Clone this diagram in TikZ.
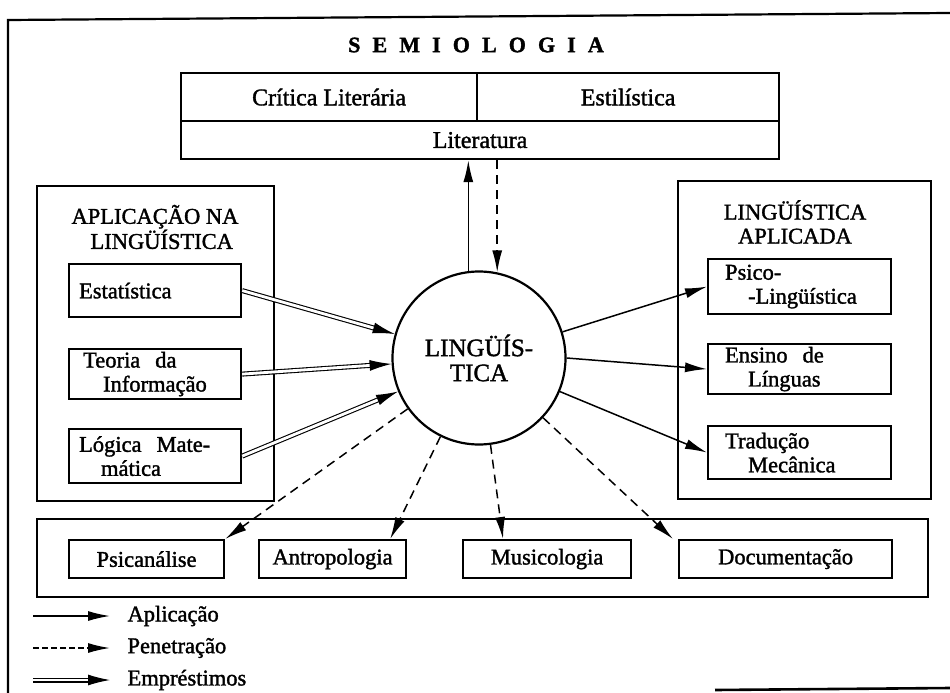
\documentclass[tikz,border=0pt]{standalone}
\usepackage{fontspec}
\setmainfont{Liberation Serif}[FakeBold=1.5]
\usetikzlibrary{arrows.meta,calc}
\begin{document}
\begin{tikzpicture}[x=1pt,y=-1pt,
  every node/.style={font=\fontsize{22.5}{24}\selectfont},
  frame/.style={line width=2.2pt},
  box/.style={draw,line width=2.2pt,rectangle,anchor=north west,inner sep=0pt},
  tbox/.style={draw,line width=2.2pt,rectangle,anchor=north west,align=left,inner ysep=0pt},
  tip/.style={-{Latex[length=22pt,width=10pt]}},
  apl/.style={line width=1.5pt,tip},
  pen/.style={line width=1.5pt,dash pattern=on 9pt off 6pt,tip},
  emp/.style={double,double distance=2.8pt,line width=1.1pt,-{Latex[length=22pt,width=11pt]}},
]
\useasboundingbox (0,0) rectangle (950,693);
% outer frame
\draw[frame] (8,693) -- (8,20) -- (950,13);
\draw[line width=2.6pt] (715,690) -- (950,688);

\node[font=\fontsize{22}{24}\selectfont\bfseries\addfontfeature{LetterSpace=55}] (sem) at (476,45) {SEMIOLOGIA};

% top box
\node[box,minimum width=296pt,minimum height=48pt,font=\fontsize{24}{26}\selectfont] (crit) at (180,72) {Crítica\ Literária};
\node[box,minimum width=302pt,minimum height=48pt,font=\fontsize{24}{26}\selectfont] (estil) at (476,72) {Estilística};
\node[box,minimum width=598pt,minimum height=38pt,font=\fontsize{24}{26}\selectfont] (lit) at (180,120) {Literatura};

% left group
\node[box,minimum width=237pt,minimum height=315pt] (lbox) at (36,185) {};
\node[align=center] (ltit) at (155,227) {APLICAÇÃO NA\\\hspace*{0.6em}LINGÜÍSTICA};
\node[tbox,inner xsep=10pt,text width=152pt,minimum height=53pt] (est) at (68,263) {Estatística};
\node[tbox,inner xsep=14pt,text width=144pt,minimum height=50pt] (teo) at (68,348) {Teoria\ \ da\\\hspace*{20pt}Informação};
\node[tbox,inner xsep=10pt,text width=152pt,minimum height=54pt] (log) at (68,428) {Lógica\ \ Mate-\\\hspace*{22pt}mática};

% right group
\node[box,minimum width=253pt,minimum height=318pt] (rbox) at (677,180) {};
\node[align=center] (rtit) at (795,222) {LINGÜÍSTICA\\APLICADA};
\node[tbox,inner xsep=17pt,text width=149pt,minimum height=55pt] (psy) at (707,258) {Psico-\\\hspace*{23pt}-Lingüística};
\node[tbox,inner xsep=17pt,text width=149pt,minimum height=50pt] (ens) at (707,343) {Ensino\ \ de\\\hspace*{23pt}Línguas};
\node[tbox,inner xsep=17pt,text width=149pt,minimum height=53pt] (tra) at (707,425) {Tradução\\\hspace*{23pt}Mecânica};

% circle
\node[draw,circle,line width=2.2pt,minimum size=173pt,inner sep=0pt,align=center,font=\fontsize{25}{25}\selectfont] (circ) at (479,358) {LINGÜÍS-\\TICA};

% bottom group
\node[box,minimum width=891pt,minimum height=78pt] (bbox) at (36,518) {};
\node[box,minimum width=155pt,minimum height=38pt] (psic) at (68,539) {Psicanálise};
\node[box,minimum width=147pt,minimum height=38pt] (antro) at (258,539) {Antropologia};
\node[box,minimum width=168pt,minimum height=38pt] (musi) at (462,539) {Musicologia};
\node[box,minimum width=213pt,minimum height=38pt] (doc) at (678,539) {Documentação};

% connectors
\draw[apl] (circ.97.5) -- (circ.97.5 |- lit.south);
\draw[pen] (circ.78 |- lit.south) -- (circ.78);

\draw[emp] (est.east) -- (circ);
\draw[emp] (teo.east) -- (circ);
\draw[emp] (log.east) -- (circ);

\draw[apl] (circ) -- (psy.west);
\draw[apl] (circ.0) -- (ens.west);
\draw[apl] (circ) -- (tra.west);

\draw[pen] (circ) -- (psic.north east);
\draw[pen] (circ) -- ($(antro.north east)+(-17,0)$);
\draw[pen] (circ) -- ($(musi.north west)+(41,0)$);
\draw[pen] (circ) -- ($(doc.north west)+(-5,0)$);

% legend
\coordinate (a1) at (33,616); \coordinate (a2) at (110,616);
\coordinate (p1) at (33,648); \coordinate (p2) at (110,648);
\coordinate (e1) at (33,680); \coordinate (e2) at (110,680);
\draw[apl] (a1) -- (a2);
\draw[pen,dash pattern=on 6pt off 3pt] (p1) -- (p2);
\draw[emp] (e1) -- (e2);
\node[anchor=west] (la) at (124,616) {Aplicação};
\node[anchor=west] (lp) at (124,648) {Penetração};
\node[anchor=west] (le) at (124,680) {Empréstimos};
\end{tikzpicture}
\end{document}
